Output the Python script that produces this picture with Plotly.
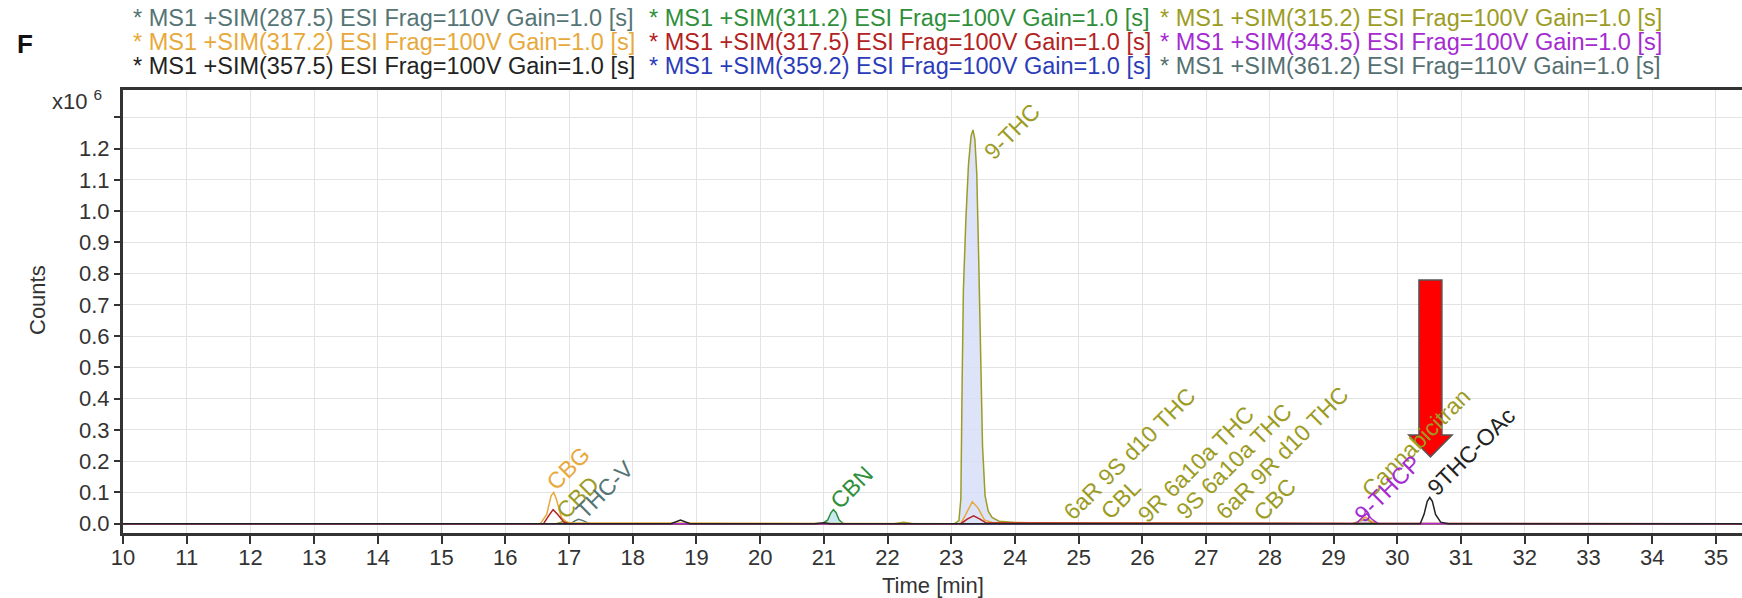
import plotly.graph_objects as go

# ---------------- data (intensity in x10^6 counts, time in min) ----------------
channel_names = [
    "* MS1 +SIM(287.5) ESI Frag=110V Gain=1.0 [s]",
    "* MS1 +SIM(311.2) ESI Frag=100V Gain=1.0 [s]",
    "* MS1 +SIM(315.2) ESI Frag=100V Gain=1.0 [s]",
    "* MS1 +SIM(317.2) ESI Frag=100V Gain=1.0 [s]",
    "* MS1 +SIM(317.5) ESI Frag=100V Gain=1.0 [s]",
    "* MS1 +SIM(343.5) ESI Frag=100V Gain=1.0 [s]",
    "* MS1 +SIM(357.5) ESI Frag=100V Gain=1.0 [s]",
    "* MS1 +SIM(359.2) ESI Frag=100V Gain=1.0 [s]",
    "* MS1 +SIM(361.2) ESI Frag=110V Gain=1.0 [s]",
]
channel_colors = ["#557575", "#2f8f3a", "#9c9c24", "#e8a93c", "#b32222",
                  "#a52bd0", "#222222", "#2b3cb8", "#557070"]

t_2875 = [10, 17.02, 17.10, 17.15, 17.22, 17.32, 35.5]
y_2875 = [0, 0, 0.010, 0.014, 0.010, 0, 0]

t_3112 = [10, 20.98, 21.06, 21.11, 21.15, 21.19, 21.24, 21.31, 35.5]
y_3112 = [0, 0, 0.012, 0.035, 0.045, 0.036, 0.012, 0, 0]

t_3152 = [10, 16.80, 16.92, 17.05, 22.10, 22.25, 22.40, 23.05, 23.12, 23.15, 23.17, 23.19,
          23.23, 23.27, 23.31, 23.34, 23.37, 23.40, 23.43, 23.46, 23.49, 23.53, 23.58,
          23.64, 23.75, 24.0, 24.5, 25.5, 29.30, 29.45, 29.52, 29.62, 35.5]
y_3152 = [0, 0, 0.008, 0, 0, 0.005, 0, 0, 0.01, 0.08, 0.45, 0.75,
          0.98, 1.15, 1.24, 1.26, 1.23, 1.12, 0.85, 0.55, 0.25, 0.09, 0.04,
          0.02, 0.008, 0.004, 0.002, 0.001, 0, 0.012, 0.015, 0, 0]

t_3172 = [10, 16.55, 16.65, 16.72, 16.76, 16.80, 16.88, 16.98, 23.15, 23.25, 23.33,
          23.42, 23.52, 23.65, 29.35, 29.45, 29.50, 29.58, 29.70, 35.5]
y_3172 = [0, 0, 0.03, 0.09, 0.10, 0.08, 0.02, 0.003, 0, 0.04, 0.07,
          0.05, 0.012, 0.003, 0, 0.015, 0.022, 0.01, 0, 0]

t_3175 = [10, 16.60, 16.68, 16.75, 16.82, 16.92, 17.00, 23.15, 23.25, 23.35, 23.45, 23.55, 35.5]
y_3175 = [0, 0, 0.025, 0.045, 0.03, 0.005, 0, 0, 0.015, 0.025, 0.015, 0.002, 0]

t_3435 = [10, 29.35, 29.45, 29.52, 29.60, 29.70, 35.5]
y_3435 = [0, 0, 0.02, 0.032, 0.015, 0, 0]

t_3575 = [10, 18.60, 18.75, 18.90, 20.85, 21.00, 21.10, 30.36, 30.42, 30.47, 30.51,
          30.55, 30.60, 30.68, 30.80, 35.5]
y_3575 = [0, 0, 0.012, 0, 0, 0.003, 0, 0, 0.03, 0.072, 0.084, 0.072, 0.03, 0.005, 0, 0]

t_3592 = [10, 35.5]
y_3592 = [0, 0]

t_3612 = [10, 35.5]
y_3612 = [0, 0]

series_t = [t_2875, t_3112, t_3152, t_3172, t_3175, t_3435, t_3575, t_3592, t_3612]
series_y = [y_2875, y_3112, y_3152, y_3172, y_3175, y_3435, y_3575, y_3592, y_3612]

peak_labels = ["CBG", "CBD", "THC-V", "CBN", "9-THC", "6aR 9S d10 THC", "CBL",
               "9R 6a10a THC", "9S 6a10a THC", "6aR 9R d10 THC", "CBC",
               "Cannabicitran", "9-THCP", "9THC-OAc"]
peak_label_x = [16.99, 17.14, 17.55, 21.44, 23.96, 25.79, 25.66,
                26.84, 27.44, 28.19, 28.08, 30.29, 29.84, 31.15]
peak_label_y = [0.179, 0.086, 0.109, 0.118, 1.256, 0.224, 0.080,
                0.192, 0.201, 0.227, 0.080, 0.259, 0.112, 0.23]
peak_label_channel = [3, 2, 0, 1, 2, 2, 2, 2, 2, 2, 2, 2, 5, 6]

y_tickvals = [0.0, 0.1, 0.2, 0.3, 0.4, 0.5, 0.6, 0.7, 0.8, 0.9, 1.0, 1.1, 1.2, 1.3]
y_ticktext = ["0.0", "0.1", "0.2", "0.3", "0.4", "0.5", "0.6", "0.7", "0.8", "0.9",
              "1.0", "1.1", "1.2", " "]
x_tickvals = list(range(10, 36))

# marker arrow (tip at 9THC-OAc)
arrow_x = 30.52
arrow_tip_y = 0.214
arrow_top_y = 0.78
arrow_head_y = 0.284

# ---------------- figure ----------------
FONT = "Liberation Sans, Arial, sans-serif"
fig = go.Figure()

draw_order = [7, 8, 0, 2, 1, 3, 4, 5, 6]
fills = {2: "rgba(212,220,246,0.8)", 1: "rgba(165,220,235,0.6)"}
for i in draw_order:
    kw = {}
    if i in fills:
        kw = dict(fill="tozeroy", fillcolor=fills[i])
    fig.add_trace(go.Scatter(
        x=series_t[i], y=series_y[i], mode="lines", name=channel_names[i],
        line=dict(color=channel_colors[i], width=1.5), **kw))

L, T, W, H = 123, 90, 1742 - 123, 598 - 90 - 65


def px_x(p):
    return (p - L) / W


def px_y(p):
    return (T + H - p) / H


annotations = []
# legend-like header (3 columns x 3 rows)
col_px = [131, 647, 1158]
row_px = [18, 42, 66]
for k, name in enumerate(channel_names):
    r, c = divmod(k, 3)
    annotations.append(dict(
        text=name, xref="paper", yref="paper", x=px_x(col_px[c]), y=px_y(row_px[r]),
        xanchor="left", yanchor="middle", showarrow=False,
        font=dict(family=FONT, size=23.5, color=channel_colors[k])))

annotations.append(dict(text="<b>F</b>", xref="paper", yref="paper", x=px_x(25), y=px_y(44),
                        xanchor="center", yanchor="middle", showarrow=False,
                        font=dict(family=FONT, size=26, color="#111")))
annotations.append(dict(text="x10 <sup>6</sup>", xref="paper", yref="paper", x=px_x(104),
                        y=px_y(100), xanchor="right", yanchor="middle", showarrow=False,
                        font=dict(family=FONT, size=22, color="#333")))
annotations.append(dict(text="Counts", xref="paper", yref="paper", x=px_x(37), y=px_y(300),
                        xanchor="center", yanchor="middle", textangle=-90, showarrow=False,
                        font=dict(family=FONT, size=22, color="#333")))
annotations.append(dict(text="Time [min]", xref="paper", yref="paper", x=px_x(933),
                        y=px_y(585), xanchor="center", yanchor="middle", showarrow=False,
                        font=dict(family=FONT, size=22, color="#333")))

for lab, lx, ly, ch in zip(peak_labels, peak_label_x, peak_label_y, peak_label_channel):
    annotations.append(dict(text=lab, x=lx, y=ly, xref="x", yref="y", textangle=-45,
                            xanchor="center", yanchor="middle", showarrow=False,
                            font=dict(family=FONT, size=23, color=channel_colors[ch])))

sw, hw = 0.18, 0.34
arrow_path = (f"M {arrow_x - sw},{arrow_top_y} L {arrow_x + sw},{arrow_top_y} "
              f"L {arrow_x + sw},{arrow_head_y} L {arrow_x + hw},{arrow_head_y} "
              f"L {arrow_x},{arrow_tip_y} L {arrow_x - hw},{arrow_head_y} "
              f"L {arrow_x - sw},{arrow_head_y} Z")

fig.update_layout(
    width=1742, height=598,
    margin=dict(l=L, r=0, t=T, b=65, pad=0),
    paper_bgcolor="white", plot_bgcolor="white",
    showlegend=False,
    font=dict(family=FONT, color="#333"),
    annotations=annotations,
    shapes=[dict(type="path", path=arrow_path, xref="x", yref="y",
                 fillcolor="#ff0000", line=dict(color="#555555", width=1.5), layer="above")],
    xaxis=dict(range=[10, 35.41], tickvals=x_tickvals, showgrid=True, gridcolor="#e3e3e3",
               gridwidth=1, showline=True, linecolor="#333", linewidth=3, mirror=True,
               ticks="outside", ticklen=8, tickwidth=2, tickcolor="#333",
               ticklabelstandoff=-5,
               tickfont=dict(family=FONT, size=22, color="#333"), zeroline=False),
    yaxis=dict(range=[-0.0297, 1.3875], tickvals=y_tickvals, ticktext=y_ticktext,
               showgrid=True, gridcolor="#e3e3e3", gridwidth=1, showline=True,
               linecolor="#333", linewidth=3, mirror=False, ticks="outside", ticklen=6,
               tickwidth=2, tickcolor="#333", tickfont=dict(family=FONT, size=22, color="#333"),
               zeroline=False),
)

fig.write_html("out.html")
